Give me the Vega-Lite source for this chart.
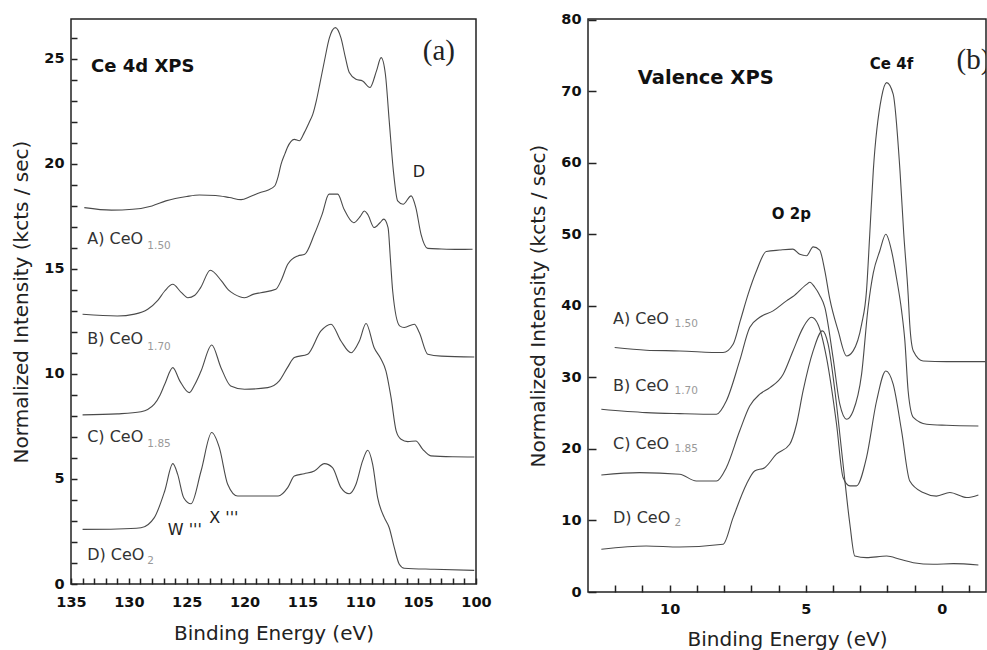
{
  "$schema": "https://vega.github.io/schema/vega-lite/v6.json",
  "padding": {"left": 11, "top": 10, "right": 0, "bottom": 0},
  "spacing": 112,
  "bounds": "flush",
  "config": {
    "view": {"stroke": null},
    "font": "DejaVu Sans",
    "axis": {
      "grid": false,
      "domain": false,
      "tickColor": "#222",
      "tickWidth": 1.5,
      "labelFont": "DejaVu Sans",
      "labelFontWeight": "bold",
      "labelFontSize": 14.5,
      "labelColor": "#111",
      "labelFlush": false,
      "labelOverlap": false,
      "titleFont": "DejaVu Sans",
      "titleFontWeight": "normal",
      "titleFontSize": 20,
      "titleColor": "#222"
    }
  },
  "datasets": {
    "aCurves": [
      {"s":"A","x":133.85,"y":17.92},{"s":"A","x":131.5,"y":17.8},{"s":"A","x":129.67,"y":17.84},{"s":"A","x":128,"y":18.0},{"s":"A","x":126.8,"y":18.24},{"s":"A","x":125,"y":18.45},{"s":"A","x":123.9,"y":18.52},{"s":"A","x":122.5,"y":18.5},{"s":"A","x":121.3,"y":18.4},{"s":"A","x":120.3,"y":18.3},{"s":"A","x":119.5,"y":18.45},{"s":"A","x":118.7,"y":18.63},{"s":"A","x":118,"y":18.75},{"s":"A","x":117.4,"y":18.95},{"s":"A","x":117.1,"y":19.4},{"s":"A","x":116.85,"y":19.98},{"s":"A","x":116.5,"y":20.5},{"s":"A","x":116.3,"y":20.78},{"s":"A","x":115.7,"y":21.17},{"s":"A","x":115.27,"y":21.1},{"s":"A","x":114.84,"y":21.49},{"s":"A","x":114.4,"y":22.0},{"s":"A","x":114.1,"y":22.37},{"s":"A","x":113.8,"y":23.0},{"s":"A","x":113.5,"y":23.8},{"s":"A","x":113.1,"y":24.9},{"s":"A","x":112.67,"y":26.0},{"s":"A","x":112.15,"y":26.49},{"s":"A","x":111.67,"y":26.0},{"s":"A","x":111.3,"y":25.1},{"s":"A","x":110.95,"y":24.35},{"s":"A","x":110.37,"y":24.03},{"s":"A","x":109.8,"y":23.95},{"s":"A","x":109.16,"y":23.64},{"s":"A","x":108.6,"y":24.43},{"s":"A","x":108.2,"y":25.06},{"s":"A","x":107.83,"y":24.27},{"s":"A","x":107.5,"y":22.05},{"s":"A","x":107.14,"y":19.67},{"s":"A","x":106.77,"y":18.24},{"s":"A","x":106.3,"y":18.08},{"s":"A","x":105.6,"y":18.48},{"s":"A","x":105.2,"y":17.92},{"s":"A","x":104.75,"y":16.65},{"s":"A","x":104.17,"y":15.98},{"s":"A","x":103,"y":15.95},{"s":"A","x":101.5,"y":15.93},{"s":"A","x":100.3,"y":15.94},
      {"s":"B","x":134.0,"y":12.84},{"s":"B","x":131.0,"y":12.76},{"s":"B","x":129.5,"y":12.85},{"s":"B","x":128.37,"y":13.08},{"s":"B","x":127.5,"y":13.5},{"s":"B","x":126.9,"y":13.95},{"s":"B","x":126.2,"y":14.27},{"s":"B","x":125.5,"y":13.9},{"s":"B","x":124.9,"y":13.63},{"s":"B","x":124.3,"y":13.75},{"s":"B","x":123.8,"y":14.11},{"s":"B","x":122.96,"y":14.94},{"s":"B","x":122.0,"y":14.43},{"s":"B","x":121.4,"y":14.0},{"s":"B","x":120.9,"y":13.8},{"s":"B","x":120.0,"y":13.63},{"s":"B","x":119.2,"y":13.8},{"s":"B","x":118.6,"y":13.87},{"s":"B","x":117.3,"y":14.03},{"s":"B","x":116.8,"y":14.5},{"s":"B","x":116.27,"y":15.22},{"s":"B","x":115.4,"y":15.62},{"s":"B","x":114.8,"y":15.7},{"s":"B","x":113.97,"y":16.65},{"s":"B","x":113.3,"y":17.6},{"s":"B","x":112.7,"y":18.56},{"s":"B","x":111.95,"y":18.56},{"s":"B","x":111.4,"y":17.84},{"s":"B","x":110.57,"y":17.2},{"s":"B","x":110.0,"y":17.5},{"s":"B","x":109.65,"y":17.76},{"s":"B","x":109.36,"y":17.6},{"s":"B","x":108.8,"y":16.97},{"s":"B","x":108.3,"y":17.2},{"s":"B","x":107.97,"y":17.37},{"s":"B","x":107.6,"y":16.97},{"s":"B","x":107.4,"y":15.5},{"s":"B","x":107.2,"y":13.95},{"s":"B","x":106.6,"y":12.29},{"s":"B","x":106.2,"y":12.21},{"s":"B","x":105.33,"y":12.37},{"s":"B","x":104.9,"y":11.97},{"s":"B","x":104.17,"y":10.94},{"s":"B","x":103,"y":10.85},{"s":"B","x":100.15,"y":10.81},
      {"s":"C","x":134.0,"y":8.05},{"s":"C","x":131,"y":8.1},{"s":"C","x":128.95,"y":8.2},{"s":"C","x":127.8,"y":8.56},{"s":"C","x":127.3,"y":9.0},{"s":"C","x":126.9,"y":9.51},{"s":"C","x":126.2,"y":10.3},{"s":"C","x":125.6,"y":9.67},{"s":"C","x":124.78,"y":9.11},{"s":"C","x":124.3,"y":9.5},{"s":"C","x":123.76,"y":10.14},{"s":"C","x":122.84,"y":11.38},{"s":"C","x":122.04,"y":10.3},{"s":"C","x":121.2,"y":9.43},{"s":"C","x":120.0,"y":9.27},{"s":"C","x":118.0,"y":9.35},{"s":"C","x":117.0,"y":9.67},{"s":"C","x":116.3,"y":10.3},{"s":"C","x":115.7,"y":10.78},{"s":"C","x":114.55,"y":10.94},{"s":"C","x":113.4,"y":12.05},{"s":"C","x":112.53,"y":12.37},{"s":"C","x":111.67,"y":11.57},{"s":"C","x":110.8,"y":11.01},{"s":"C","x":110.08,"y":11.57},{"s":"C","x":109.5,"y":12.4},{"s":"C","x":108.8,"y":11.25},{"s":"C","x":108.2,"y":10.7},{"s":"C","x":107.78,"y":10.14},{"s":"C","x":107.34,"y":8.87},{"s":"C","x":106.9,"y":7.29},{"s":"C","x":106.48,"y":6.89},{"s":"C","x":105.9,"y":6.78},{"s":"C","x":105.2,"y":6.81},{"s":"C","x":104.6,"y":6.41},{"s":"C","x":103.9,"y":6.1},{"s":"C","x":102,"y":6.06},{"s":"C","x":100.15,"y":6.05},
      {"s":"D","x":134.0,"y":2.6},{"s":"D","x":131,"y":2.62},{"s":"D","x":128.95,"y":2.68},{"s":"D","x":127.8,"y":3.16},{"s":"D","x":126.9,"y":4.43},{"s":"D","x":126.2,"y":5.73},{"s":"D","x":125.78,"y":5.22},{"s":"D","x":125.26,"y":4.11},{"s":"D","x":124.63,"y":3.82},{"s":"D","x":123.76,"y":5.38},{"s":"D","x":122.84,"y":7.21},{"s":"D","x":122.18,"y":6.49},{"s":"D","x":121.46,"y":4.75},{"s":"D","x":120.6,"y":4.19},{"s":"D","x":118.86,"y":4.19},{"s":"D","x":117.1,"y":4.19},{"s":"D","x":116.27,"y":4.59},{"s":"D","x":115.7,"y":5.14},{"s":"D","x":114.84,"y":5.25},{"s":"D","x":113.97,"y":5.38},{"s":"D","x":113.1,"y":5.73},{"s":"D","x":112.4,"y":5.54},{"s":"D","x":111.67,"y":4.59},{"s":"D","x":110.95,"y":4.3},{"s":"D","x":110.37,"y":4.75},{"s":"D","x":109.8,"y":5.86},{"s":"D","x":109.36,"y":6.37},{"s":"D","x":108.93,"y":5.7},{"s":"D","x":108.5,"y":4.11},{"s":"D","x":107.92,"y":3.16},{"s":"D","x":107.5,"y":2.68},{"s":"D","x":107.06,"y":1.73},{"s":"D","x":106.63,"y":0.94},{"s":"D","x":106.2,"y":0.75},{"s":"D","x":103.6,"y":0.7},{"s":"D","x":100.15,"y":0.65}
    ],
    "bCurves": [
      {"s":"A","x":12.02,"y":34.17},{"s":"A","x":10.86,"y":33.8},{"s":"A","x":9.63,"y":33.7},{"s":"A","x":8.04,"y":33.47},{"s":"A","x":7.67,"y":34.64},{"s":"A","x":7.4,"y":38.0},{"s":"A","x":7.12,"y":41.6},{"s":"A","x":6.81,"y":44.9},{"s":"A","x":6.45,"y":47.6},{"s":"A","x":5.96,"y":47.8},{"s":"A","x":5.47,"y":47.93},{"s":"A","x":5.22,"y":47.2},{"s":"A","x":4.97,"y":47.0},{"s":"A","x":4.73,"y":48.25},{"s":"A","x":4.49,"y":47.8},{"s":"A","x":4.3,"y":44.9},{"s":"A","x":4.12,"y":41.0},{"s":"A","x":3.81,"y":36.5},{"s":"A","x":3.5,"y":33.0},{"s":"A","x":3.26,"y":33.7},{"s":"A","x":2.95,"y":37.4},{"s":"A","x":2.77,"y":42.1},{"s":"A","x":2.65,"y":50.0},{"s":"A","x":2.52,"y":58.9},{"s":"A","x":2.22,"y":69.1},{"s":"A","x":2.03,"y":71.2},{"s":"A","x":1.79,"y":69.6},{"s":"A","x":1.54,"y":58.9},{"s":"A","x":1.4,"y":50.0},{"s":"A","x":1.24,"y":41.6},{"s":"A","x":1.18,"y":37.4},{"s":"A","x":1.05,"y":33.7},{"s":"A","x":0.69,"y":32.3},{"s":"A","x":-0.17,"y":32.2},{"s":"A","x":-1.6,"y":32.2},
      {"s":"B","x":12.51,"y":25.55},{"s":"B","x":10.86,"y":25.08},{"s":"B","x":9.63,"y":24.94},{"s":"B","x":8.28,"y":24.85},{"s":"B","x":7.92,"y":26.7},{"s":"B","x":7.43,"y":32.3},{"s":"B","x":7.06,"y":36.96},{"s":"B","x":6.69,"y":38.4},{"s":"B","x":6.2,"y":39.3},{"s":"B","x":5.71,"y":40.7},{"s":"B","x":5.47,"y":41.3},{"s":"B","x":4.97,"y":43.0},{"s":"B","x":4.85,"y":43.3},{"s":"B","x":4.67,"y":42.6},{"s":"B","x":4.49,"y":41.5},{"s":"B","x":4.3,"y":39.8},{"s":"B","x":4.0,"y":32.8},{"s":"B","x":3.75,"y":26.25},{"s":"B","x":3.5,"y":24.15},{"s":"B","x":3.26,"y":25.3},{"s":"B","x":2.95,"y":30.45},{"s":"B","x":2.71,"y":39.8},{"s":"B","x":2.52,"y":44.6},{"s":"B","x":2.28,"y":47.7},{"s":"B","x":2.06,"y":50.0},{"s":"B","x":1.85,"y":47.7},{"s":"B","x":1.67,"y":43.96},{"s":"B","x":1.48,"y":39.3},{"s":"B","x":1.36,"y":35.1},{"s":"B","x":1.24,"y":28.1},{"s":"B","x":1.05,"y":24.4},{"s":"B","x":0.56,"y":23.45},{"s":"B","x":-0.17,"y":23.3},{"s":"B","x":-1.34,"y":23.2},
      {"s":"C","x":12.51,"y":16.36},{"s":"C","x":11.1,"y":16.69},{"s":"C","x":9.63,"y":16.46},{"s":"C","x":9.02,"y":15.52},{"s":"C","x":8.28,"y":15.52},{"s":"C","x":7.92,"y":17.38},{"s":"C","x":7.43,"y":22.5},{"s":"C","x":7.06,"y":26.0},{"s":"C","x":6.69,"y":27.65},{"s":"C","x":6.32,"y":28.57},{"s":"C","x":5.83,"y":30.45},{"s":"C","x":5.47,"y":33.7},{"s":"C","x":5.1,"y":36.96},{"s":"C","x":4.79,"y":38.4},{"s":"C","x":4.55,"y":37.4},{"s":"C","x":4.24,"y":32.8},{"s":"C","x":3.87,"y":23.45},{"s":"C","x":3.63,"y":16.0},{"s":"C","x":3.38,"y":14.83},{"s":"C","x":3.14,"y":14.83},{"s":"C","x":2.77,"y":18.8},{"s":"C","x":2.4,"y":26.7},{"s":"C","x":2.06,"y":30.9},{"s":"C","x":1.79,"y":29.05},{"s":"C","x":1.48,"y":22.5},{"s":"C","x":1.18,"y":15.52},{"s":"C","x":0.69,"y":13.9},{"s":"C","x":0.2,"y":13.4},{"s":"C","x":-0.29,"y":13.9},{"s":"C","x":-0.91,"y":13.2},{"s":"C","x":-1.34,"y":13.57},
      {"s":"D","x":12.51,"y":5.97},{"s":"D","x":10.86,"y":6.43},{"s":"D","x":9.63,"y":6.29},{"s":"D","x":8.04,"y":6.67},{"s":"D","x":7.67,"y":10.4},{"s":"D","x":7.18,"y":15.06},{"s":"D","x":6.88,"y":16.92},{"s":"D","x":6.51,"y":17.38},{"s":"D","x":6.08,"y":19.26},{"s":"D","x":5.59,"y":20.66},{"s":"D","x":5.34,"y":23.45},{"s":"D","x":5.1,"y":28.1},{"s":"D","x":4.73,"y":33.7},{"s":"D","x":4.39,"y":36.5},{"s":"D","x":4.18,"y":34.64},{"s":"D","x":3.93,"y":28.1},{"s":"D","x":3.63,"y":17.86},{"s":"D","x":3.38,"y":9.47},{"s":"D","x":3.2,"y":5.03},{"s":"D","x":2.77,"y":4.8},{"s":"D","x":2.03,"y":5.03},{"s":"D","x":1.54,"y":4.57},{"s":"D","x":1.05,"y":4.1},{"s":"D","x":0.32,"y":3.87},{"s":"D","x":-0.42,"y":3.96},{"s":"D","x":-1.34,"y":3.78}
    ],
    "aLabels": [{"x":133.6,"y":16.41,"t":"A) CeO"},{"x":133.6,"y":11.65,"t":"B) CeO"},{"x":133.6,"y":7.0,"t":"C) CeO"},{"x":133.6,"y":1.37,"t":"D) CeO"}],
    "aSubs": [{"x":128.4,"y":16.1,"t":"1.50"},{"x":128.4,"y":11.3,"t":"1.70"},{"x":128.4,"y":6.65,"t":"1.85"},{"x":128.4,"y":1.1,"t":"2"}],
    "aTitle": [{"x":133.27,"y":24.6,"t":"Ce 4d XPS"}],
    "aPanel": [{"x":104.6,"y":25.4,"t":"(a)"}],
    "aNotes": [{"x":105.47,"y":19.6,"t":"D"},{"x":126.64,"y":2.56,"t":"W '''"},{"x":123.05,"y":3.16,"t":"X '''"}],
    "bLabels": [{"x":12.08,"y":38.14,"t":"A) CeO"},{"x":12.08,"y":28.81,"t":"B) CeO"},{"x":12.08,"y":20.66,"t":"C) CeO"},{"x":12.08,"y":10.39,"t":"D) CeO"}],
    "bSubs": [{"x":9.82,"y":37.44,"t":"1.50"},{"x":9.82,"y":28.11,"t":"1.70"},{"x":9.82,"y":19.96,"t":"1.85"},{"x":9.82,"y":9.7,"t":"2"}],
    "bTitle": [{"x":11.17,"y":71.9,"t":"Valence XPS"}],
    "bNotes": [{"x":1.85,"y":73.8,"t":"Ce 4f"},{"x":5.53,"y":52.8,"t":"O 2p"}],
    "bPanel": [{"x":-0.54,"y":74.3,"t":"(b)"}]
  },
  "hconcat": [
    {
      "width": 405,
      "height": 565,
      "view": {"stroke": "#222", "strokeWidth": 1.5},
      "encoding": {
        "x": {"field": "x", "type": "quantitative", "scale": {"domain": [100, 135], "reverse": true, "nice": false, "zero": false},
              "axis": {"orient": "bottom", "values": [100,101,102,103,104,105,106,107,108,109,110,111,112,113,114,115,116,117,118,119,120,121,122,123,124,125,126,127,128,129,130,131,132,133,134,135],
                       "labelExpr": "datum.value % 5 === 0 ? datum.label : ''", "ticks": true, "tickSize": 6, "offset": -6, "labelPadding": 11, "title": "Binding Energy (eV)", "titlePadding": 15}},
        "y": {"field": "y", "type": "quantitative", "scale": {"domain": [0, 26.9], "nice": false, "zero": false},
              "axis": {"orient": "left", "values": [0,1,2,3,4,5,6,7,8,9,10,11,12,13,14,15,16,17,18,19,20,21,22,23,24,25,26],
                       "labelExpr": "datum.value % 5 === 0 ? datum.label : ''", "ticks": true, "tickSize": 6, "offset": -6, "labelPadding": 7, "title": "Normalized Intensity (kcts / sec)", "titlePadding": 12}}
      },
      "layer": [
        {
          "data": {"name": "aCurves"},
          "mark": {"type": "line", "strokeWidth": 1.1, "color": "#4a4a4a", "clip": true, "interpolate": "monotone"},
          "encoding": {"detail": {"field": "s"}}
        },
        {
          "data": {"name": "aLabels"},
          "mark": {"type": "text", "align": "left", "baseline": "middle", "fontSize": 16, "color": "#333", "font": "DejaVu Sans"},
          "encoding": {"text": {"field": "t"}}
        },
        {
          "data": {"name": "aSubs"},
          "mark": {"type": "text", "align": "left", "baseline": "middle", "fontSize": 10.5, "color": "#999", "font": "DejaVu Sans"},
          "encoding": {"text": {"field": "t"}}
        },
        {
          "data": {"name": "aTitle"},
          "mark": {"type": "text", "align": "left", "baseline": "middle", "fontSize": 18, "fontWeight": "bold", "color": "#111", "font": "DejaVu Sans"},
          "encoding": {"text": {"field": "t"}}
        },
        {
          "data": {"name": "aPanel"},
          "mark": {"type": "text", "align": "left", "baseline": "middle", "fontSize": 29, "color": "#222", "font": "Liberation Serif"},
          "encoding": {"text": {"field": "t"}}
        },
        {
          "data": {"name": "aNotes"},
          "mark": {"type": "text", "align": "left", "baseline": "middle", "fontSize": 16, "color": "#222", "font": "DejaVu Sans"},
          "encoding": {"text": {"field": "t"}}
        }
      ]
    },
    {
      "width": 398,
      "height": 573,
      "view": {"stroke": "#222", "strokeWidth": 1.5},
      "encoding": {
        "x": {"field": "x", "type": "quantitative", "scale": {"domain": [-1.62, 13.0], "reverse": true, "nice": false, "zero": false},
              "axis": {"orient": "bottom", "values": [-1,0,1,2,3,4,5,6,7,8,9,10,11,12],
                       "labelExpr": "datum.value % 5 === 0 ? datum.label : ''", "ticks": true, "tickSize": 7, "offset": -7, "labelPadding": 10, "title": "Binding Energy (eV)", "titlePadding": 14}},
        "y": {"field": "y", "type": "quantitative", "scale": {"domain": [0, 80.1], "nice": false, "zero": false},
              "axis": {"orient": "left", "values": [0,10,20,30,40,50,60,70,80], "ticks": true, "tickSize": 8, "offset": -8, "labelPadding": 7, "title": "Normalized Intensity (kcts / sec)", "titlePadding": 12}}
      },
      "layer": [
        {
          "data": {"name": "bCurves"},
          "mark": {"type": "line", "strokeWidth": 1.1, "color": "#4a4a4a", "clip": true, "interpolate": "monotone"},
          "encoding": {"detail": {"field": "s"}}
        },
        {
          "data": {"name": "bLabels"},
          "mark": {"type": "text", "align": "left", "baseline": "middle", "fontSize": 16, "color": "#333", "font": "DejaVu Sans"},
          "encoding": {"text": {"field": "t"}}
        },
        {
          "data": {"name": "bSubs"},
          "mark": {"type": "text", "align": "left", "baseline": "middle", "fontSize": 10.5, "color": "#999", "font": "DejaVu Sans"},
          "encoding": {"text": {"field": "t"}}
        },
        {
          "data": {"name": "bTitle"},
          "mark": {"type": "text", "align": "left", "baseline": "middle", "fontSize": 19.5, "fontWeight": "bold", "color": "#111", "font": "DejaVu Sans"},
          "encoding": {"text": {"field": "t"}}
        },
        {
          "data": {"name": "bNotes"},
          "mark": {"type": "text", "align": "center", "baseline": "middle", "fontSize": 15, "fontWeight": "bold", "color": "#111", "font": "DejaVu Sans"},
          "encoding": {"text": {"field": "t"}}
        },
        {
          "data": {"name": "bPanel"},
          "mark": {"type": "text", "align": "left", "baseline": "middle", "fontSize": 29, "color": "#222", "font": "Liberation Serif", "clip": true},
          "encoding": {"text": {"field": "t"}}
        }
      ]
    }
  ]
}
